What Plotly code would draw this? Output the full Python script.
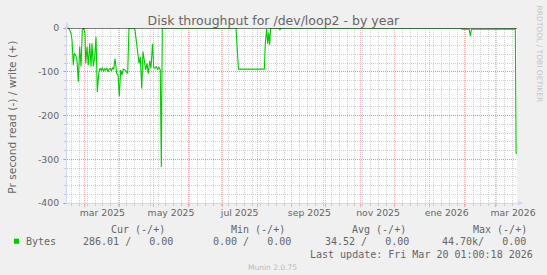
import plotly.graph_objects as go

# ---------------- data ----------------
dates = [
    "2025-02-14 13:00", "2025-02-16 14:00", "2025-02-17 12:00", "2025-02-18 15:00",
    "2025-02-19 13:00", "2025-02-20 18:00", "2025-02-21 22:00", "2025-02-23 02:00",
    "2025-02-24 08:00", "2025-02-25 12:00", "2025-02-26 15:00", "2025-02-27 21:00",
    "2025-03-01 01:00", "2025-03-01 16:00", "2025-03-02 20:00", "2025-03-03 23:00",
    "2025-03-05 05:00", "2025-03-06 09:00", "2025-03-07 06:00", "2025-03-08 10:00",
    "2025-03-09 16:00", "2025-03-10 20:00", "2025-03-12 00:00", "2025-03-13 05:00",
    "2025-03-14 09:00",
    "2025-03-15 12:00", "2025-03-16 12:00", "2025-03-17 12:00", "2025-03-18 12:00",
    "2025-03-19 12:00", "2025-03-20 12:00", "2025-03-21 12:00", "2025-03-22 12:00",
    "2025-03-23 12:00", "2025-03-24 12:00", "2025-03-25 12:00", "2025-03-26 12:00",
    "2025-03-27 17:00", "2025-03-29 05:00", "2025-03-30 09:00", "2025-03-31 13:00",
    "2025-04-01 18:00", "2025-04-02 22:00", "2025-04-04 02:00", "2025-04-05 14:00",
    "2025-04-06 18:00", "2025-04-08 00:00", "2025-04-09 03:00", "2025-04-13 20:00",
    "2025-04-14 12:00", "2025-04-15 15:00", "2025-04-16 21:00", "2025-04-18 01:00",
    "2025-04-19 05:00", "2025-04-20 11:00", "2025-04-21 14:00", "2025-04-22 18:00",
    "2025-04-24 00:00", "2025-04-25 03:00", "2025-04-26 07:00", "2025-04-27 13:00",
    "2025-04-28 17:00", "2025-04-30 01:00", "2025-05-01 03:00", "2025-05-02 06:00",
    "2025-05-03 11:00", "2025-05-04 15:00", "2025-05-05 19:00", "2025-05-06 23:00",
    "2025-05-07 21:00", "2025-05-08 18:00",
    "2025-07-13 06:00", "2025-07-15 11:00", "2025-08-07 11:00", "2025-08-08 08:00",
    "2025-08-09 13:00", "2025-08-10 11:00", "2025-08-11 08:00", "2025-08-12 06:00",
    "2025-08-12 23:00", "2025-08-13 20:00",
    "2025-08-20 09:00", "2025-08-21 08:00", "2025-08-22 07:00",
    "2026-01-29 03:00", "2026-01-30 03:00", "2026-02-05 12:00", "2026-02-06 13:00",
    "2026-02-07 12:00", "2026-03-18 13:00", "2026-03-19 06:00", "2026-03-20 00:00",
]
read_bytes = [
    0, -12, -27, -85, -58, -62, -73, -123, -43, -88, -5, 0,
    -12, -81, -43, -85, -35, -88, -35, -88, -66, -20, -146, -104, -92,
    -97, -90, -99, -93, -96, -91, -100, -94, -92, -98, -90, -95,
    -70, -104, -107, -156, -96, -107, -94, -96, -100, -104, 0, 0,
    -5, -27, -58, -81, -66, -138, -54, -81, -96, -81, -104, -75,
    -92, -36, -90, -92, -88, -94, -90, -96, -318, 0,
    0, -94, -94, -34, -2, -36, -11, -38, -2, 0,
    0, -4, 0,
    0, -2.5, -2.5, -18, -3, -2.5, -286, -286,
]
assert len(dates) == len(read_bytes)

x_start, x_end = "2025-02-13 01:00", "2026-03-20 01:00"
x_label_dates = ["2025-03-16 12:00", "2025-05-16 12:00", "2025-07-16 12:00",
                 "2025-09-16 12:00", "2025-11-16 12:00", "2026-01-16 12:00",
                 "2026-03-16 12:00"]
x_labels = ["mar 2025", "may 2025", "jul 2025", "sep 2025", "nov 2025",
            "ene 2026", "mar 2026"]
y_ticks = [-400, -300, -200, -100, 0]

title = "Disk throughput for /dev/loop2 - by year"
y_title = "Pr second read (-) / write (+)"
series_name = "Bytes"
headers = ["Cur (-/+)", "Min (-/+)", "Avg (-/+)", "Max (-/+)"]
stats = ["286.01 /   0.00", "0.00 /   0.00", "34.52 /   0.00", "44.70k/   0.00"]
last_update = "Last update: Fri Mar 20 01:00:18 2026"
watermark = "Munin 2.0.75"
side_text = "RRDTOOL / TOBI OETIKER"

# ---------------- layout geometry ----------------
W, H = 547, 275
L, R, T, B = 67, 30, 28, 72
PW, PH = W - L - R, H - T - B

def px(x):
    return (x - L) / PW

def py(y):
    return (H - B - y) / PH

FONT = "#666666"
AXIS = "#CFD6F8"
MGRID = "rgba(222,80,80,0.42)"
GRID = "rgba(143,143,143,0.40)"
GREEN = "#00CC00"

fig = go.Figure()
fig.add_trace(go.Scatter(x=dates, y=read_bytes, mode="lines",
                         line=dict(color=GREEN, width=1.1),
                         hoverinfo="skip", showlegend=False))
fig.add_trace(go.Scatter(x=dates, y=read_bytes, mode="lines",
                         line=dict(color="rgba(0,0,0,0)", width=0),
                         xaxis="x2", hoverinfo="skip", showlegend=False))

fig.update_layout(
    width=W, height=H,
    margin=dict(l=L, r=R, t=T, b=B, pad=0),
    paper_bgcolor="#F0F0F0", plot_bgcolor="#FFFFFF",
    title=dict(text=title, x=273.4 / W, xanchor="center", xref="container",
               y=1 - 20.2 / H, yanchor="middle",
               font=dict(family="DejaVu Sans", size=12.5, color=FONT)),
    xaxis=dict(type="date", range=[x_start, x_end], tickmode="linear",
               tick0="2025-03-01", dtick="M1", showticklabels=False,
               ticks="outside", ticklen=3, tickcolor=MGRID, tickwidth=1,
               showgrid=True, gridcolor=MGRID, griddash="1px,1px", gridwidth=1,
               minor=dict(dtick=7 * 86400000, tick0="2025-02-17", showgrid=True,
                          gridcolor=GRID, griddash="1px,1px", ticks="outside",
                          ticklen=2, tickcolor=GRID),
               showline=True, linecolor=AXIS, linewidth=1, zeroline=False,
               fixedrange=True),
    xaxis2=dict(type="date", range=[x_start, x_end], overlaying="x", side="bottom",
                anchor="y", tickmode="array", tickvals=x_label_dates, ticktext=x_labels,
                showgrid=False, ticks="", zeroline=False, showline=False,
                tickfont=dict(family="DejaVu Sans", size=9.3, color=FONT),
                ticklabelstandoff=3),
    yaxis=dict(range=[-400, 0], tickmode="array", tickvals=y_ticks,
               ticktext=[str(v) for v in y_ticks],
               ticks="outside", ticklen=3, tickcolor=MGRID,
               showgrid=True, gridcolor=MGRID, griddash="1px,1px",
               minor=dict(dtick=20, tick0=0, showgrid=True, gridcolor=GRID,
                          griddash="1px,1px", ticks="outside", ticklen=2, tickcolor=GRID),
               showline=True, linecolor=AXIS, linewidth=1, zeroline=False,
               tickfont=dict(family="DejaVu Sans", size=9.3, color=FONT),
               ticklabelstandoff=2, fixedrange=True),
    showlegend=False,
)

shapes = []
# zero line
shapes.append(dict(type="line", xref="paper", yref="y", x0=0, x1=1, y0=0, y1=0,
                   line=dict(color="#000000", width=1), layer="above"))
# axis arrows
shapes.append(dict(type="line", xref="paper", yref="paper", x0=px(67), x1=px(67),
                   y0=py(28), y1=py(23), line=dict(color=AXIS, width=1), layer="above"))
shapes.append(dict(type="path", xref="paper", yref="paper",
                   path=f"M {px(64.5)},{py(28)} L {px(69.5)},{py(28)} L {px(67)},{py(22)} Z",
                   fillcolor=AXIS, line=dict(width=0), layer="above"))
shapes.append(dict(type="line", xref="paper", yref="paper", x0=px(517), x1=px(520),
                   y0=py(203), y1=py(203), line=dict(color=AXIS, width=1), layer="above"))
shapes.append(dict(type="path", xref="paper", yref="paper",
                   path=f"M {px(518)},{py(200.5)} L {px(518)},{py(205.5)} L {px(523)},{py(203)} Z",
                   fillcolor=AXIS, line=dict(width=0), layer="above"))
# legend swatch
shapes.append(dict(type="rect", xref="paper", yref="paper", x0=px(14), x1=px(19),
                   y0=py(243.8), y1=py(238.6), fillcolor=GREEN, line=dict(width=0)))
fig.update_layout(shapes=shapes)

def ann(text, x, y, size, color=FONT, family="DejaVu Sans Mono", xanchor="left", angle=0):
    fig.add_annotation(text=text, xref="paper", yref="paper", x=px(x), y=py(y),
                       xanchor=xanchor, yanchor="middle", showarrow=False,
                       textangle=angle, borderpad=0, borderwidth=0,
                       font=dict(family=family, size=size, color=color))

ann(y_title, 12.3, 117.5, 10.7, family="DejaVu Sans", xanchor="center", angle=-90)
ann(side_text, 539, 53.5, 7.5, color="#C4C4C4", family="DejaVu Sans", xanchor="center", angle=90)

for text, x in zip(headers, [111, 231.3, 352.4, 472.8]):
    ann(text, x, 229.2, 10)
ann(series_name, 26.2, 241.8, 10)
for text, x in zip(stats, [83, 212.8, 324.5, 442.4]):
    ann(text, x, 241.8, 10)
ann(last_update, 532.8, 254.3, 10, xanchor="right")
ann(watermark, 272.9, 267.2, 7.5, color="#BBBBBB", family="DejaVu Sans", xanchor="center")

fig.write_html("out.html")
